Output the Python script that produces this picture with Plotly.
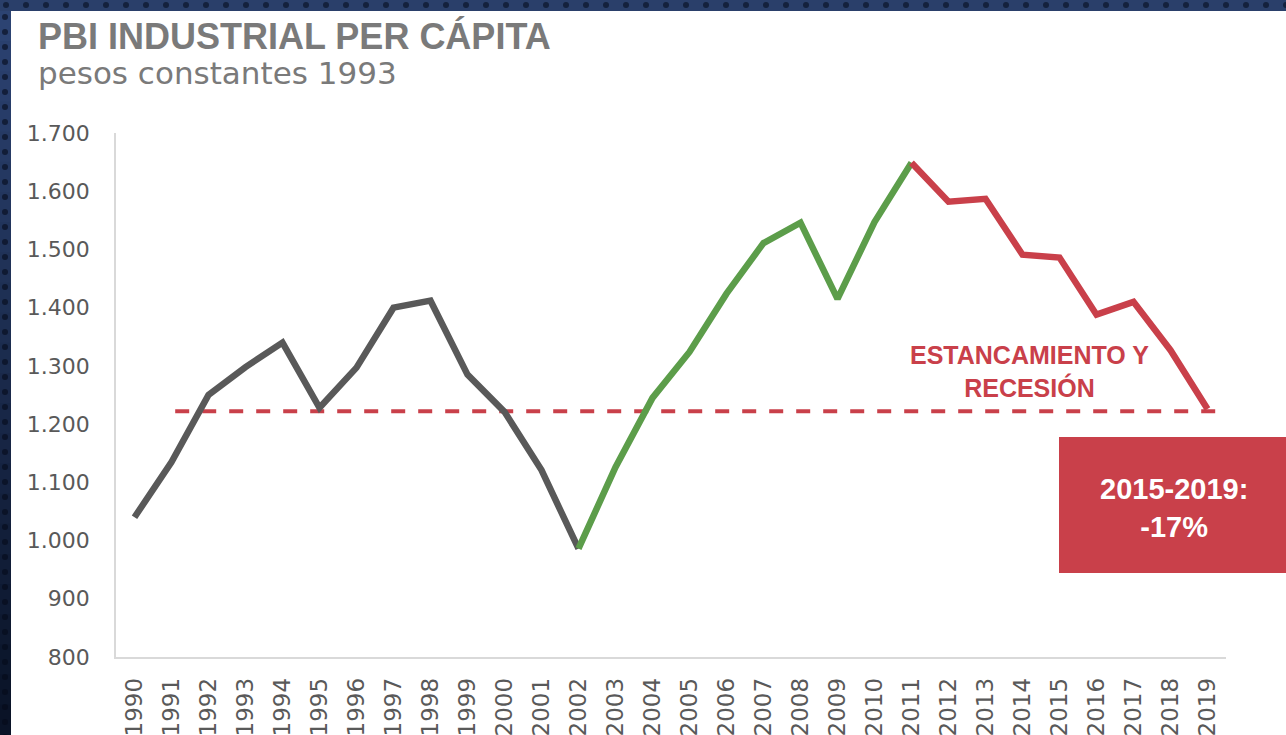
import plotly.graph_objects as go

# ---- data ----
years = list(range(1990, 2020))
pbi_industrial_pc = [1040, 1135, 1250, 1298, 1340, 1228, 1297, 1400, 1412, 1285,
                     1221, 1121, 986, 1126, 1245, 1324, 1424, 1511, 1546, 1415,
                     1547, 1649, 1582, 1587, 1491, 1486, 1388, 1410, 1327, 1226]
ref_level = 1222
title_text = "PBI INDUSTRIAL PER CÁPITA"
subtitle_text = "pesos constantes 1993"
note_text = "ESTANCAMIENTO Y<br>RECESIÓN"
box_text = "2015-2019:<br>-17%"

GRAY = "#595959"
GREEN = "#5C9D4A"
RED = "#C9404A"
NAVY = "#1d2f52"

W, H = 1286, 735
ML, MR, MT, MB = 116, 60, 133, 78
PW, PH = W - ML - MR, H - MT - MB


def px(x):
    return (x - ML) / PW


def py(y):
    return (H - MB - y) / PH


i02 = years.index(2002)
i11 = years.index(2011)

fig = go.Figure()
segments = [(0, i02 + 1, GRAY), (i02, i11 + 1, GREEN), (i11, len(years), RED)]
for a, b, col in segments:
    fig.add_trace(go.Scatter(x=years[a:b], y=pbi_industrial_pc[a:b], mode="lines",
                             line=dict(color=col, width=6.5), showlegend=False,
                             hoverinfo="x+y"))

shapes = []
# white panel
shapes.append(dict(type="rect", xref="paper", yref="paper", x0=px(11), x1=px(W + 20),
                   y0=py(H + 20), y1=py(11), fillcolor="white", line=dict(width=0),
                   layer="below"))
# left strip gradient bands
nb = 24
c0 = (0x2c, 0x43, 0x72)
c1 = (0x0a, 0x13, 0x27)
for k in range(nb):
    t = k / (nb - 1)
    col = "rgb(%d,%d,%d)" % tuple(int(c0[j] + (c1[j] - c0[j]) * t) for j in range(3))
    shapes.append(dict(type="rect", xref="paper", yref="paper", x0=px(-2), x1=px(11),
                       y0=py(11 + (k + 1) * (H - 11) / nb + 1), y1=py(11 + k * (H - 11) / nb),
                       fillcolor=col, line=dict(width=0), layer="below"))
shapes.append(dict(type="rect", xref="paper", yref="paper", x0=px(-2), x1=px(W + 20),
                   y0=py(11), y1=py(-2), fillcolor="#2a3f6a", line=dict(width=0),
                   layer="below"))
# decorative dots
for xx in range(0, W + 10, 20):
    shapes.append(dict(type="circle", xref="paper", yref="paper", x0=px(xx + 3), x1=px(xx + 9),
                       y0=py(8), y1=py(2), fillcolor="#14213d", line=dict(width=0),
                       layer="below"))
for yy in range(14, H, 15):
    shapes.append(dict(type="circle", xref="paper", yref="paper", x0=px(2), x1=px(8),
                       y0=py(yy + 6), y1=py(yy), fillcolor="rgba(5,10,25,0.6)",
                       line=dict(width=0), layer="below"))
# reference dashed line
shapes.append(dict(type="line", xref="x", yref="y", x0=1991.1, x1=2019.55,
                   y0=ref_level, y1=ref_level,
                   line=dict(color=RED, width=4, dash="14px,13px"), layer="below"))
# red box
shapes.append(dict(type="rect", xref="paper", yref="paper", x0=px(1059), x1=px(W + 20),
                   y0=py(573), y1=py(437), fillcolor=RED, line=dict(width=0)))

annotations = [
    dict(text="<b>" + title_text + "</b>", xref="paper", yref="paper", x=px(36), y=py(36),
         xanchor="left", yanchor="middle", showarrow=False,
         font=dict(family="Liberation Sans", size=36, color="#7a7a7a")),
    dict(text=subtitle_text, xref="paper", yref="paper", x=px(36), y=py(73),
         xanchor="left", yanchor="middle", showarrow=False,
         font=dict(family="DejaVu Sans", size=31, color="#7a7a7a")),
    dict(text="<b>" + note_text + "</b>", xref="x", yref="y", x=2014.2, y=1291,
         xanchor="center", yanchor="middle", showarrow=False, align="center",
         font=dict(family="Liberation Sans", size=25, color=RED)),
    dict(text="<b>" + box_text + "</b>", xref="paper", yref="paper", x=px(1174), y=py(508),
         xanchor="center", yanchor="middle", showarrow=False, align="center",
         font=dict(family="Liberation Sans", size=29, color="white")),
]

fig.update_layout(
    width=W, height=H,
    margin=dict(l=ML, r=MR, t=MT, b=MB, pad=0, autoexpand=False),
    paper_bgcolor=NAVY, plot_bgcolor="rgba(0,0,0,0)",
    shapes=shapes, annotations=annotations, showlegend=False,
)
fig.update_xaxes(range=[1989.5, 2019.5], tickmode="array", tickvals=years,
                 ticktext=[str(y) for y in years], tickangle=-90, showgrid=False,
                 zeroline=False, showline=True, linecolor="#d9d9d9", linewidth=1.5,
                 ticks="", ticklabelstandoff=10, automargin=False,
                 tickfont=dict(family="DejaVu Sans", size=23, color=GRAY))
fig.update_yaxes(range=[800, 1700], tickmode="array",
                 tickvals=list(range(800, 1701, 100)),
                 ticktext=["{:,}".format(v).replace(",", ".") for v in range(800, 1701, 100)],
                 showgrid=False, zeroline=False, showline=True, linecolor="#d9d9d9",
                 linewidth=1.5, ticks="", ticklabelstandoff=20, automargin=False,
                 tickfont=dict(family="DejaVu Sans", size=22, color=GRAY))

fig.write_html("out.html")
